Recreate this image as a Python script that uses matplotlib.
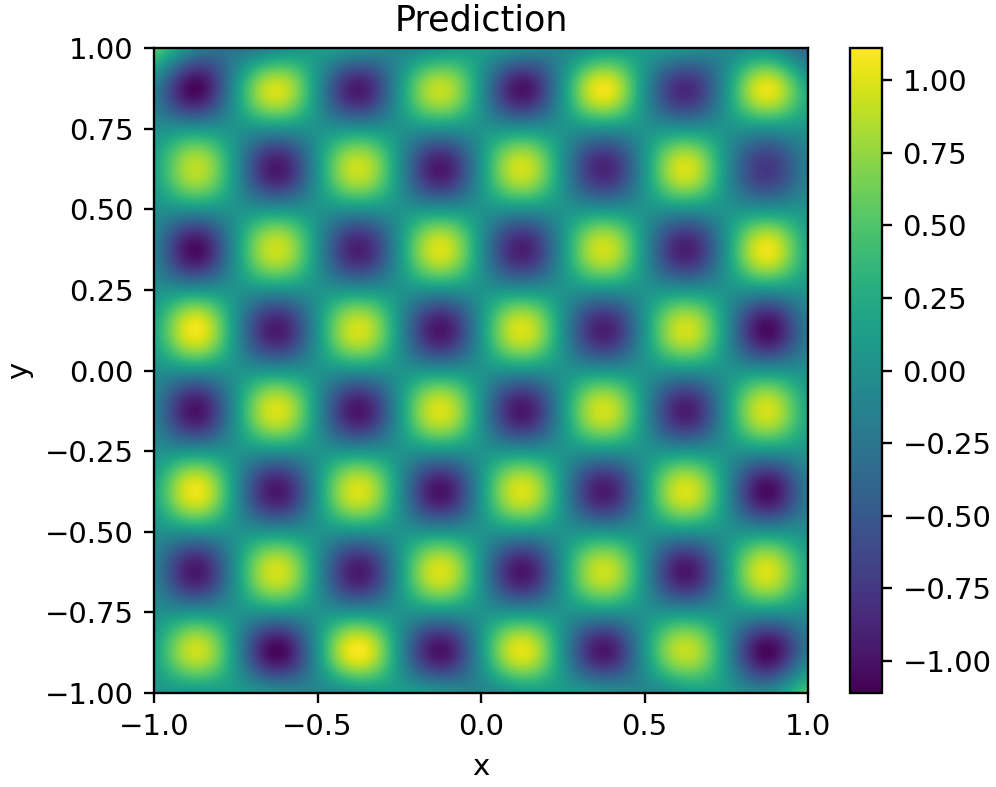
import numpy as np
import matplotlib
matplotlib.use("Agg")
import matplotlib.pyplot as plt

# values at the centre of each blob, top row first
peaks = [
    [-1.08, 0.96, -0.95, 0.90, -1.00, 1.06, -0.85, 1.03],
    [0.88, -0.97, 0.93, -0.97, 0.95, -0.88, 0.98, -0.75],
    [-1.05, 0.93, -0.92, 0.98, -0.92, 0.95, -0.92, 1.05],
    [1.07, -0.95, 0.96, -0.98, 0.98, -0.92, 0.95, -1.05],
    [-1.00, 0.98, -0.98, 0.98, -0.97, 0.95, -0.93, 0.96],
    [1.05, -0.97, 0.98, -1.00, 0.98, -0.95, 0.98, -1.05],
    [-0.97, 0.96, -0.95, 0.98, -0.98, 0.93, -0.98, 0.98],
    [0.93, -1.08, 1.09, -1.00, 1.01, -0.97, 0.90, -1.08],
]
# values along the four borders of the plot, read left to right / top to bottom
top_edge = [0.55, -0.10, -0.25, -0.10, 0.10, 0.05, -0.10, 0.0, 0.10, 0.0, -0.10, 0.05, 0.10, 0.05, -0.10, -0.05, -0.40]
bottom_edge = [0.05, 0.05, 0.10, 0.0, -0.10, 0.0, 0.10, 0.05, -0.10, 0.05, 0.10, 0.05, -0.10, 0.05, 0.10, -0.05, 0.50]
left_edge = [0.55, -0.15, 0.0, 0.15, 0.0, -0.15, 0.0, 0.20, 0.0, -0.15, 0.0, 0.20, 0.0, -0.15, 0.0, 0.15, 0.05]
right_edge = [-0.40, 0.20, 0.05, -0.15, 0.05, 0.20, 0.05, -0.20, 0.0, 0.20, 0.05, -0.20, 0.0, 0.20, 0.0, -0.20, 0.50]
background = 0.03
color_ticks = [-1.0, -0.75, -0.5, -0.25, 0.0, 0.25, 0.5, 0.75, 1.0]
color_min = -1.11
color_max = 1.11

grid = np.full((17, 17), background)
grid[1::2, 1::2] = peaks
grid[0, :] = top_edge
grid[-1, :] = bottom_edge
grid[:, 0] = left_edge
grid[:, -1] = right_edge

fig = plt.figure(figsize=(996 / 210, 787 / 210), dpi=210)
ax = fig.add_axes([154 / 996, 1 - 693 / 787, 654 / 996, 645 / 787])
cax = fig.add_axes([850 / 996, 1 - 693 / 787, 32 / 996, 645 / 787])

im = ax.imshow(grid, extent=[-1.0625, 1.0625, -1.0625, 1.0625], cmap='viridis',
               vmin=color_min, vmax=color_max, interpolation='spline36', aspect='auto')
ax.set_xlim(-1, 1)
ax.set_ylim(-1, 1)
ax.set_xticks([-1.0, -0.5, 0.0, 0.5, 1.0])
ax.set_yticks([-1.0, -0.75, -0.5, -0.25, 0.0, 0.25, 0.5, 0.75, 1.0])
ax.set_xlabel('x')
ax.set_ylabel('y')
ax.set_title('Prediction')

cb = fig.colorbar(im, cax=cax)
cb.set_ticks(color_ticks)

fig.savefig('out.png', dpi=210)
